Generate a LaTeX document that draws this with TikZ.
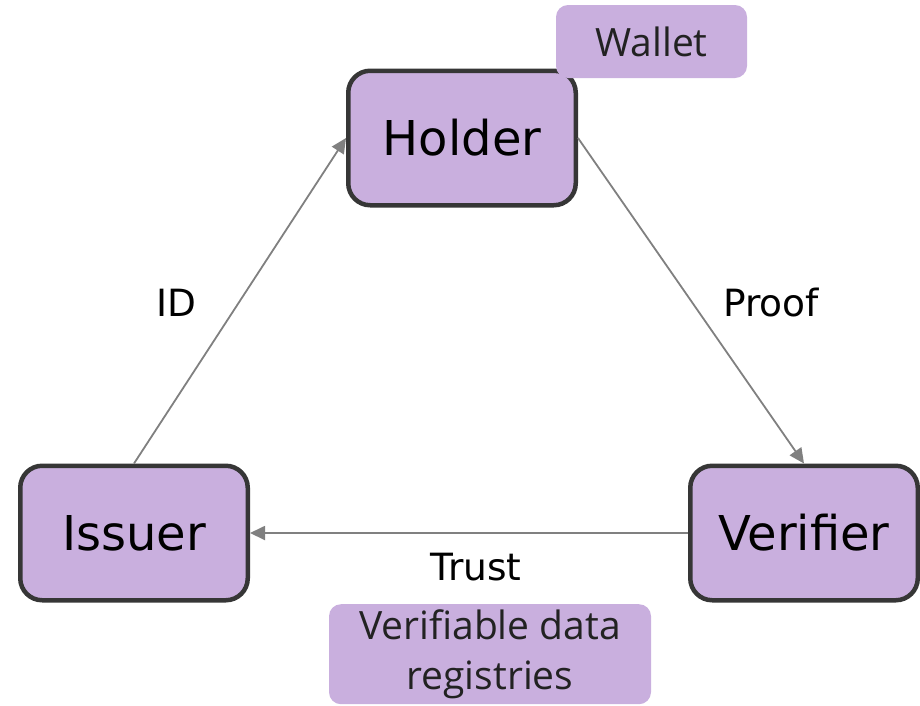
\documentclass[tikz,border=0pt]{standalone}
\usepackage{fontspec}
\setmainfont{Open Sans}
\newfontfamily\rolefont{DejaVu Sans}
\usetikzlibrary{arrows.meta}
\definecolor{lav}{HTML}{C9AFDE}
\definecolor{rim}{HTML}{363636}
\definecolor{link}{HTML}{808080}
\definecolor{ink}{HTML}{222222}
\tikzset{
  role/.style={draw=rim, line width=4.5pt, fill=lav, rounded corners=22pt,
    minimum width=227.5pt, minimum height=134.5pt, inner sep=0pt,
    font=\rolefont\fontsize{48}{58}\selectfont, text=black},
  tag/.style={fill=lav, rounded corners=12pt, inner sep=0pt,
    font=\fontsize{39}{50}\selectfont, text=ink, align=center},
  flow/.style={draw=link, line width=1.8pt, -{Triangle[length=15pt,width=14pt]}},
  flowlabel/.style={font=\rolefont\fontsize{37.5}{44}\selectfont, text=black}
}
\begin{document}
\begin{tikzpicture}[x=1pt,y=-1pt]
\useasboundingbox (0,0) rectangle (920,705);

% the three roles
\node[role] (holder) at (462,138) {Holder};
\node[role] (issuer) at (134,533) {Issuer};
\node[role] (verifier) at (804,533) {Verifier};

% supporting components
\node[tag, minimum width=191pt, minimum height=73pt] (wallet) at (651.5,41.5) {Wallet};
\node[tag, minimum width=322pt, minimum height=100pt, anchor=north] (registry) at (490,604)
  {Verifiable data\\registries};

% credential flow
\draw[flow] (issuer.north) -- (holder.west);
\draw[flow] (holder.east) -- (verifier.north);
\draw[flow] (verifier.west) -- (issuer.east);

% flow labels
\node[flowlabel] (lid) at (176,303) {ID};
\node[flowlabel] (lproof) at (771,303) {Proof};
\node[flowlabel] (ltrust) at (476,567) {Trust};
\end{tikzpicture}
\end{document}
